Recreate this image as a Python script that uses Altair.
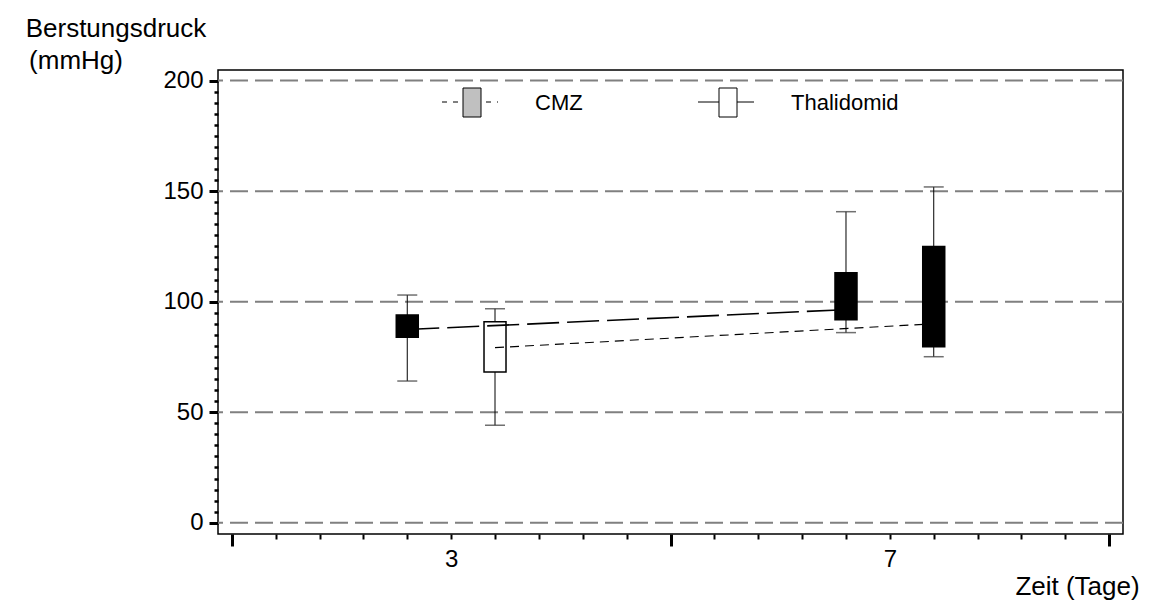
import altair as alt
import pandas as pd

# Burst pressure per group and day (box-plot summary values, mmHg)
SERIES = ["CMZ", "Thalidomid"]
DAYS = [3, 3, 7, 7]
GROUPS = ["CMZ", "Thalidomid", "CMZ", "Thalidomid"]
LOWER = [64.1, 44.1, 86.0, 75.1]
Q1 = [83.9, 68.2, 91.8, 79.6]
MEDIAN = [87.4, 79.2, 96.4, 90.0]
Q3 = [94.0, 90.9, 113.1, 125.0]
UPPER = [103.0, 96.8, 140.7, 151.9]

X_TICKS = [1, 1.4, 1.8, 2.2, 2.6, 3, 3.4, 3.8, 4.2, 4.6, 5,
           5.4, 5.8, 6.2, 6.6, 7, 7.4, 7.8, 8.2, 8.6, 9]
Y_TICKS = list(range(0, 205, 5))
GRID = [0, 50, 100, 150, 200]
Y_TITLE = ["Berstungsdruck", "(mmHg)"]
X_TITLE = "Zeit (Tage)"

FONT = "Liberation Sans"
W, H = 905, 464

df = pd.DataFrame({
    "day": DAYS, "series": GROUPS, "lower": LOWER, "q1": Q1,
    "median": MEDIAN, "q3": Q3, "upper": UPPER,
})

x_scale = alt.Scale(domain=[0.92, 9.08], nice=False, zero=False)
y_scale = alt.Scale(domain=[-5.1, 204.8], nice=False, zero=False)

x_axis = alt.Axis(
    values=X_TICKS,
    labelExpr="datum.value === 3 || datum.value === 7 ? format(datum.value, 'd') : ''",
    tickSize={"condition": {"test": "datum.value === 1 || datum.value === 5 || datum.value === 9", "value": 12}, "value": 5},
    tickWidth={"condition": {"test": "datum.value === 1 || datum.value === 5 || datum.value === 9", "value": 3}, "value": 2},
    tickColor="black", domain=False, grid=False,
    labelFont=FONT, labelFontSize=24, labelColor="black", labelPadding=8,
    title=X_TITLE, titleFont=FONT, titleFontSize=26, titleFontWeight="normal",
    titleColor="black", titleAlign="center", titleAnchor="start",
    titleX=859, titleY=60, titleBaseline="alphabetic",
)
y_axis = alt.Axis(
    values=Y_TICKS,
    labelExpr="datum.value % 50 === 0 ? datum.label : ''",
    tickSize={"condition": {"test": "datum.value % 50 === 0", "value": 9}, "value": 4},
    tickWidth={"condition": {"test": "datum.value % 50 === 0", "value": 3}, "value": 2.5},
    tickColor="black", domain=False, grid=False,
    labelFont=FONT, labelFontSize=24, labelColor="black", labelPadding=6,
    title=None,
)

X = alt.X("pos:Q", scale=x_scale, axis=x_axis)

base = alt.Chart(df).transform_calculate(
    pos="datum.day + (datum.series === 'CMZ' ? -0.4 : 0.4)"
)

# dashed reference lines at the labelled pressures
grid = alt.Chart(pd.DataFrame({"g": GRID})).mark_rule(
    color="#808080", strokeWidth=2, strokeDash=[18, 7]
).encode(y=alt.Y("g:Q", scale=y_scale, axis=y_axis))

whisker = base.mark_rule(color="black", strokeWidth=1).encode(
    x=X, y=alt.Y("lower:Q", scale=y_scale, axis=y_axis), y2="upper:Q"
)
cap_lo = base.mark_tick(color="#333333", thickness=1.5, size=20, orient="horizontal").encode(
    x=X, y=alt.Y("lower:Q", scale=y_scale, axis=y_axis)
)
cap_hi = base.mark_tick(color="#333333", thickness=1.5, size=20, orient="horizontal").encode(
    x=X, y=alt.Y("upper:Q", scale=y_scale, axis=y_axis)
)
box = base.mark_bar(size=22, stroke="black", strokeWidth=1.5).encode(
    x=X, y=alt.Y("q1:Q", scale=y_scale, axis=y_axis), y2="q3:Q",
    fill=alt.condition("datum.series === 'Thalidomid' && datum.day === 3",
                       alt.value("white"), alt.value("black")),
)
trend = base.mark_line(color="black").encode(
    x=X, y=alt.Y("median:Q", scale=y_scale, axis=y_axis),
    detail="series:N",
    strokeDash=alt.StrokeDash("series:N", scale=alt.Scale(domain=SERIES, range=[[32, 8], [9, 6]]), legend=None),
    strokeWidth=alt.StrokeWidth("series:N", scale=alt.Scale(domain=SERIES, range=[1.6, 1.1]), legend=None),
)

# axis title lines in the top-left corner
t1 = alt.Chart(pd.DataFrame({"t": [Y_TITLE[0]]})).mark_text(
    font=FONT, fontSize=26, color="black", align="center", baseline="alphabetic"
).encode(text="t:N", x=alt.value(-102), y=alt.value(-33))
t2 = alt.Chart(pd.DataFrame({"t": [Y_TITLE[1]]})).mark_text(
    font=FONT, fontSize=26, color="black", align="center", baseline="alphabetic"
).encode(text="t:N", x=alt.value(-142), y=alt.value(-1))

# hand-placed legend inside the plot area
legend_layers = []
leg_anchor = [224, 480]      # left end of each legend sample line
leg_fill = ["#c0c0c0", "white"]
leg_dash = [[5, 6], [1, 0]]
for i, s in enumerate(SERIES):
    x0 = leg_anchor[i]
    one = pd.DataFrame({"series": [s]})
    legend_layers.append(
        alt.Chart(one).mark_rule(color="black", strokeWidth=1, strokeDash=leg_dash[i]).encode(
            x=alt.value(x0), x2=alt.value(x0 + 56), y=alt.value(32)
        )
    )
    legend_layers.append(
        alt.Chart(one).mark_rect(fill=leg_fill[i], stroke="black", strokeWidth=1).encode(
            x=alt.value(x0 + 21), x2=alt.value(x0 + 39), y=alt.value(18), y2=alt.value(47)
        )
    )
    legend_layers.append(
        alt.Chart(one).mark_text(font=FONT, fontSize=22, color="black", align="left", baseline="middle").encode(
            text="series:N", x=alt.value(x0 + 93), y=alt.value(33)
        )
    )

chart = alt.layer(
    grid, whisker, cap_lo, cap_hi, box, trend, t1, t2, *legend_layers
).properties(
    width=W, height=H,
    autosize=alt.AutoSizeParams(type="none"),
    padding={"left": 218, "top": 70, "right": 36, "bottom": 69},
    background="white",
).configure_view(
    stroke="black", strokeWidth=1.5
)

chart.save("out.html", embed_options={"renderer": "svg", "actions": False})
